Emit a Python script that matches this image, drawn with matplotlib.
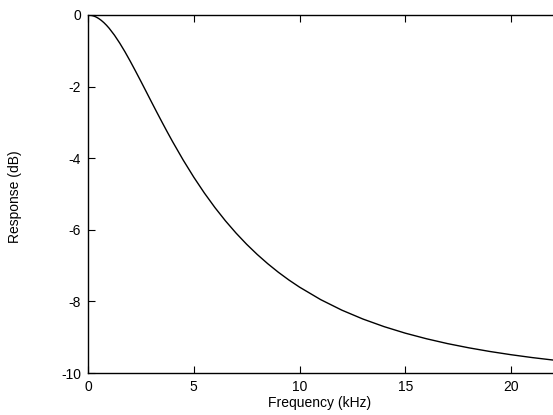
import matplotlib
matplotlib.use("Agg")
import matplotlib.pyplot as plt

freq_khz = [0, 0.125, 0.25, 0.375, 0.5, 0.625, 0.75, 0.875, 1, 1.25, 1.5, 1.75,
            2, 2.25, 2.5, 2.75, 3, 3.25, 3.5, 3.75, 4, 4.5, 5, 5.5, 6, 6.5,
            7, 7.5, 8, 8.5, 9, 9.5, 10, 11, 12, 13, 14, 15, 16, 17, 18, 19,
            20, 21, 22, 22.05]
response_db = [0.0, -0.006, -0.024, -0.054, -0.096, -0.149, -0.213, -0.287,
               -0.370, -0.563, -0.785, -1.030, -1.294, -1.570, -1.852, -2.139,
               -2.427, -2.712, -2.993, -3.269, -3.538, -4.051, -4.529, -4.971,
               -5.378, -5.751, -6.092, -6.404, -6.688, -6.948, -7.186, -7.403,
               -7.601, -7.950, -8.244, -8.493, -8.705, -8.887, -9.043, -9.179,
               -9.296, -9.399, -9.489, -9.569, -9.639, -9.643]
x_ticks = [0, 5, 10, 15, 20]
y_ticks = [0, -2, -4, -6, -8, -10]

plt.rcParams['font.family'] = ['Liberation Sans', 'DejaVu Sans']
fig = plt.figure(figsize=(5.53, 4.15), dpi=100)
W, H = 553, 415
left, top, bottom = 88, 15, 373
ppu = 21.15
ax = fig.add_axes([left / W, (H - bottom) / H, 25 * ppu / W, (bottom - top) / H])
ax.plot(freq_khz, response_db, color='black', lw=1.0)
ax.set_xlim(0, 25)
ax.set_ylim(-10, 0)
ax.set_xticks(x_ticks)
ax.set_yticks(y_ticks)
ax.set_yticklabels([str(v) for v in y_ticks])
ax.tick_params(direction='in', length=5, width=0.8, top=True, right=True,
               labelsize=10, pad=5)
for s in ax.spines.values():
    s.set_linewidth(1.0)
fig.text(15 / W, 1 - 197 / H, 'Response (dB)', rotation=90, ha='center', va='center', fontsize=10)
fig.text(320 / W, 1 - 403 / H, 'Frequency (kHz)', ha='center', va='center', fontsize=10)
fig.savefig('out.png', dpi=100)
